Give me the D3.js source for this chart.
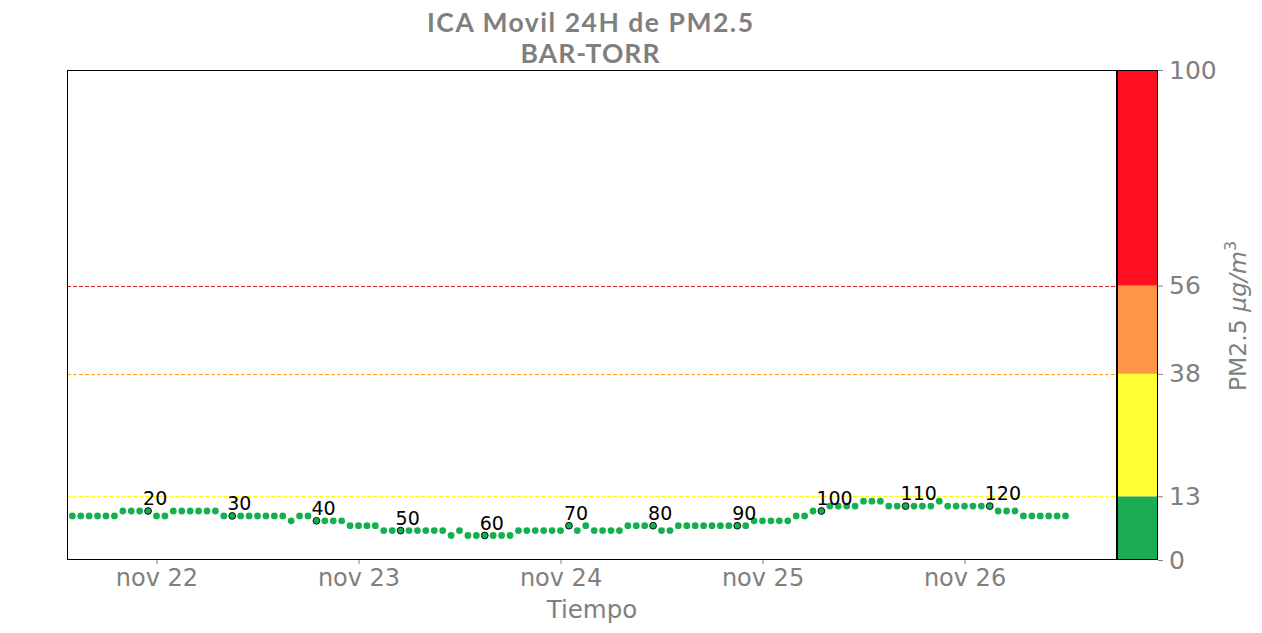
<!DOCTYPE html>
<html><head><meta charset="utf-8">
<script src="https://cdn.jsdelivr.net/npm/d3@7"></script>
<style>body{margin:0;background:#fff}</style></head>
<body>
<svg id="chart" width="1262" height="633"></svg>
<script>
// ---- data ----
const firstIndex = 10;                       // index of first hourly reading shown
const firstTime = new Date(2023, 10, 21, 13); // time of that reading
const pm25 = [
  9,9,9,9,9,9,9,            // 10-16
  10,10,10,10,              // 17-20
  9,9,                      // 21-22
  10,10,10,10,10,10,        // 23-28
  9,9,9,9,9,9,9,9,          // 29-36
  8,9,9,                    // 37-39
  8,8,8,8,                  // 40-43
  7,7,7,7,                  // 44-47
  6,6,6,6,6,6,6,6,          // 48-55
  5,6,                      // 56-57
  5,5,5,5,5,5,              // 58-63
  6,6,6,6,6,6,              // 64-69
  7,6,7,                    // 70-72
  6,6,6,6,                  // 73-76
  7,7,7,7,                  // 77-80
  6,6,                      // 81-82
  7,7,7,7,7,7,7,7,7,        // 83-91
  8,8,8,8,8,                // 92-96
  9,9,                      // 97-98
  10,10,                    // 99-100
  11,11,11,11,              // 101-104
  12,12,12,                 // 105-107
  11,11,11,11,11,11,        // 108-113
  12,                       // 114
  11,11,11,11,11,11,        // 115-120
  10,10,10,                 // 121-123
  9,9,9,9,9,9               // 124-129
];
const labelIndices = [20,30,40,50,60,70,80,90,100,110,120];
const bandBreaks = [0,13,38,56,100];
const bandColors = ["#1aad55","#ffff33","#ff9645","#ff0f1f"];
const thresholds = [13,38,56];
const thresholdColors = ["#ffff00","#ff9933","#d62728"];
const cbTicks = [0,13,38,56,100];
const xTickDates = [new Date(2023,10,22),new Date(2023,10,23),new Date(2023,10,24),new Date(2023,10,25),new Date(2023,10,26)];
const xTickLabels = ["nov 22","nov 23","nov 24","nov 25","nov 26"];
const xDomain = [new Date(2023,10,21,13,22), new Date(2023,10,26,18,7)];
const titleLines = ["ICA Movil 24H de PM2.5","BAR-TORR"];

// ---- layout ----
const L = 67, R = 1117, T = 70, B = 560, CBR = 1158;
const gray = "#808080";
const svg = d3.select("#chart");

const data = pm25.map((v,i)=>({idx:firstIndex+i, t:d3.timeHour.offset(firstTime,i), v}));

const x = d3.scaleTime().domain(xDomain).range([L,R]);
const y = d3.scaleLinear().domain([0,100]).range([B,T]);

svg.append("defs").append("clipPath").attr("id","clip")
  .append("rect").attr("x",L).attr("y",T).attr("width",R-L).attr("height",B-T);

// threshold lines
svg.append("g").selectAll("line").data(thresholds).join("line")
  .attr("x1",L).attr("x2",R).attr("y1",d=>Math.round(y(d))+0.5).attr("y2",d=>Math.round(y(d))+0.5)
  .attr("stroke",(d,i)=>thresholdColors[i]).attr("stroke-width",1.1)
  .attr("stroke-dasharray","4,2");

// points
const pg = svg.append("g").attr("clip-path","url(#clip)");
pg.selectAll("circle").data(data).join("circle")
  .attr("cx",d=>x(d.t)).attr("cy",d=>y(d.v)).attr("r",3.4)
  .attr("fill","#13b04f")
  .attr("stroke",d=>labelIndices.includes(d.idx)?"#000":"none")
  .attr("stroke-width",0.9);

// point labels
svg.append("g").selectAll("text").data(data.filter(d=>labelIndices.includes(d.idx))).join("text")
  .attr("x",d=>x(d.t)-5).attr("y",d=>y(d.v)-6)
  .attr("font-family","DejaVu Sans").attr("font-size",19).attr("fill","#000")
  .text(d=>d.idx);

// frame
svg.append("rect").attr("x",L+0.5).attr("y",T+0.5).attr("width",R-L-1).attr("height",B-T-1)
  .attr("fill","none").attr("stroke","#000").attr("stroke-width",1);

// x axis
const xAxis = svg.append("g").attr("transform",`translate(0,${B})`)
  .call(d3.axisBottom(x).tickValues(xTickDates).tickSize(4).tickPadding(5)
    .tickFormat((d,i)=>xTickLabels[i]));
xAxis.select(".domain").remove();
xAxis.selectAll("line").attr("stroke",gray);
xAxis.selectAll("text").attr("fill",gray).attr("font-family","DejaVu Sans").attr("font-size",24);

svg.append("text").attr("x",(L+R)/2).attr("y",618).attr("text-anchor","middle")
  .attr("font-family","DejaVu Sans").attr("font-size",24.5).attr("fill",gray).text("Tiempo");

// colorbar
const cb = svg.append("g");
cb.selectAll("rect").data(bandColors).join("rect")
  .attr("x",R).attr("width",CBR-R)
  .attr("y",(d,i)=>y(bandBreaks[i+1])).attr("height",(d,i)=>y(bandBreaks[i])-y(bandBreaks[i+1]))
  .attr("fill",d=>d);
cb.append("rect").attr("x",R+0.5).attr("y",T+0.5).attr("width",CBR-R-1).attr("height",B-T-1)
  .attr("fill","none").attr("stroke","#000").attr("stroke-width",1);
const cAxis = svg.append("g").attr("transform",`translate(${CBR},0)`)
  .call(d3.axisRight(y).tickValues(cbTicks).tickSize(5).tickPadding(6).tickFormat(d3.format("d")));
cAxis.select(".domain").remove();
cAxis.selectAll("line").attr("stroke",gray);
cAxis.selectAll("text").attr("fill",gray).attr("font-family","DejaVu Sans").attr("font-size",25);

const yl = svg.append("text").attr("transform","translate(1246,316) rotate(-90)")
  .attr("text-anchor","middle").attr("font-family","DejaVu Sans").attr("font-size",23.5).attr("fill",gray);
yl.append("tspan").text("PM2.5 ");
yl.append("tspan").attr("font-style","italic").text("μg/m");
yl.append("tspan").attr("font-size",16).attr("dy",-10).text("3");

// title
const titleWidths = [326,139];
svg.append("g").selectAll("text").data(titleLines).join("text")
  .attr("x",590).attr("y",(d,i)=>32+i*31).attr("text-anchor","middle")
  .attr("font-family","Lato").attr("font-weight","bold").attr("font-size",26.5).attr("fill","#7f7f7f")
  .attr("textLength",(d,i)=>titleWidths[i]).attr("lengthAdjust","spacing")
  .text(d=>d);
</script>
</body></html>
